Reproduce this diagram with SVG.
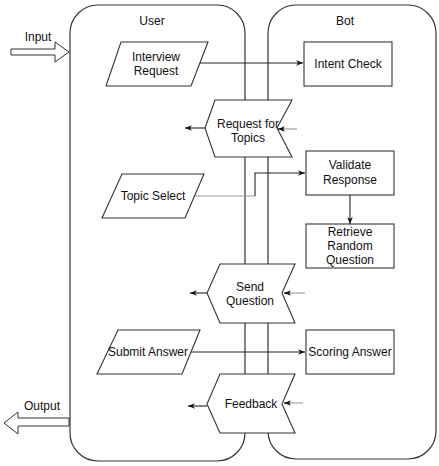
<svg xmlns="http://www.w3.org/2000/svg" width="439" height="466" viewBox="0 0 439 466">
<defs>
<style>
.lane{fill:none;stroke:#333;stroke-width:1.2}
.node{fill:#fff;stroke:#333;stroke-width:1.1}
.t{font-family:"Liberation Sans",Arial,sans-serif;font-size:12px;fill:#111;text-anchor:middle}
.c{fill:none;stroke:#222;stroke-width:1.1}
.cl{fill:none;stroke:#999;stroke-width:1.1}
.blk{fill:#fff;stroke:#333;stroke-width:1}
</style>
<marker id="ah" viewBox="0 0 10 10" refX="10" refY="5" markerWidth="7" markerHeight="7" orient="auto" markerUnits="userSpaceOnUse">
<path d="M0,1 L10,5 L0,9 L3,5 Z" fill="#111"/>
</marker>
</defs>
<rect width="439" height="466" fill="#fff"/>
<g id="lane-user">
<rect class="lane" x="70" y="5" width="175" height="456" rx="28"/>
<text class="t" x="152" y="25">User</text>
</g>
<g id="lane-bot">
<rect class="lane" x="268" y="5" width="168" height="454" rx="28"/>
<text class="t" x="345" y="25">Bot</text>
</g>
<g id="input">
<path class="blk" d="M11,49 L55,49 L55,42 L69,52 L55,62 L55,55 L11,55 Z"/>
<text class="t" x="38" y="41">Input</text>
</g>
<g id="output">
<path class="blk" d="M69,418 L18,418 L18,412 L4,423 L18,434 L18,426 L69,426 Z"/>
<text class="t" x="42" y="410">Output</text>
</g>
<g id="connectors">
<path class="c" d="M200,63 L303,63" marker-end="url(#ah)"/>
<path class="c" d="M205,128 L185,128" marker-end="url(#ah)"/>
<path class="cl" d="M297,129 L278,129"/>
<path class="c" d="M284,129 L278,129" marker-end="url(#ah)"/>
<path class="cl" d="M195,196 L255,196"/>
<path class="c" d="M255,196 L255,173 L305,173" marker-end="url(#ah)"/>
<path class="c" d="M350,195 L350,224" marker-end="url(#ah)"/>
<path class="c" d="M207,293 L190,293" marker-end="url(#ah)"/>
<path class="cl" d="M305,293 L284,293"/>
<path class="c" d="M290,293 L284,293" marker-end="url(#ah)"/>
<path class="c" d="M190,352 L305,352" marker-end="url(#ah)"/>
<path class="c" d="M207,406 L188,406" marker-end="url(#ah)"/>
<path class="cl" d="M303,403 L284,403"/>
<path class="c" d="M290,403 L284,403" marker-end="url(#ah)"/>
</g>
<g id="interview-request">
<path class="node" d="M121,42 L208,42 L191,86 L106,86 Z"/>
<text class="t" x="156" y="61">Interview</text>
<text class="t" x="156" y="75">Request</text>
</g>
<g id="intent-check">
<rect class="node" x="304" y="42" width="88" height="44"/>
<text class="t" x="348" y="68">Intent Check</text>
</g>
<g id="request-topics">
<path class="node" d="M215,100 L292,100 L277,128 L292,157 L215,157 L205,128 Z"/>
<text class="t" x="248" y="128">Request for</text>
<text class="t" x="248" y="142">Topics</text>
</g>
<g id="topic-select">
<path class="node" d="M122,174 L204,174 L185,218 L102,218 Z"/>
<text class="t" x="153" y="200">Topic Select</text>
</g>
<g id="validate-response">
<rect class="node" x="306" y="151" width="88" height="44"/>
<text class="t" x="350" y="169">Validate</text>
<text class="t" x="350" y="184">Response</text>
</g>
<g id="retrieve-question">
<rect class="node" x="306" y="224" width="88" height="44"/>
<text class="t" x="350" y="236">Retrieve</text>
<text class="t" x="350" y="250">Random</text>
<text class="t" x="350" y="264">Question</text>
</g>
<g id="send-question">
<path class="node" d="M220,264 L295,264 L282,293 L295,323 L220,323 L207,293 Z"/>
<text class="t" x="250" y="291">Send</text>
<text class="t" x="250" y="305">Question</text>
</g>
<g id="submit-answer">
<path class="node" d="M118,330 L200,330 L182,374 L97,374 Z"/>
<text class="t" x="148" y="356">Submit Answer</text>
</g>
<g id="scoring-answer">
<rect class="node" x="306" y="330" width="88" height="44"/>
<text class="t" x="350" y="356">Scoring Answer</text>
</g>
<g id="feedback">
<path class="node" d="M220,374 L295,374 L282,404 L295,433 L220,433 L207,404 Z"/>
<text class="t" x="251" y="408">Feedback</text>
</g>
</svg>
